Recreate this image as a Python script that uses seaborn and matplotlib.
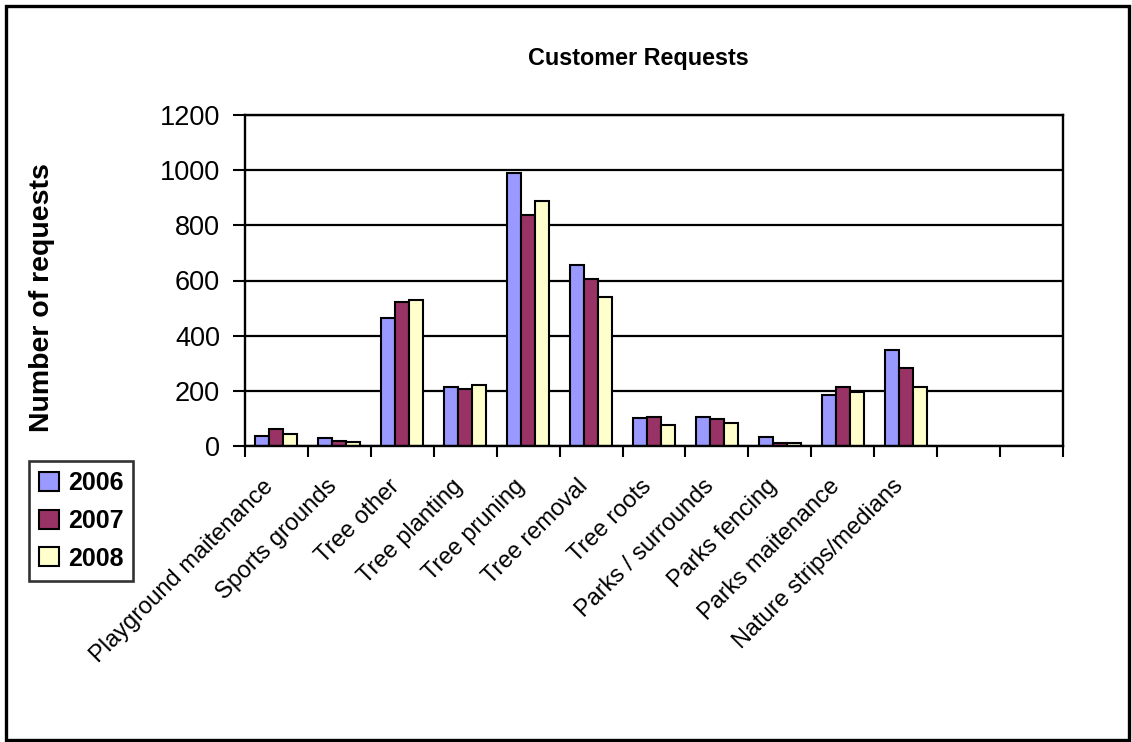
import matplotlib
matplotlib.use("Agg")
import matplotlib.pyplot as plt
import matplotlib.transforms as mtransforms
from matplotlib.patches import Rectangle, Patch
import seaborn as sns
import pandas as pd
import numpy as np

categories = ["Playground maitenance", "Sports grounds", "Tree other", "Tree planting",
              "Tree pruning", "Tree removal", "Tree roots", "Parks / surrounds",
              "Parks fencing", "Parks maitenance", "Nature strips/medians"]
years = ["2006", "2007", "2008"]
v2006 = [36, 29, 464, 215, 991, 656, 102, 105, 31, 184, 349]
v2007 = [62, 17, 522, 206, 838, 607, 104, 97, 12, 215, 281]
v2008 = [45, 13, 531, 220, 887, 541, 77, 85, 10, 194, 215]
colors = ["#9999FF", "#993366", "#FFFFCC"]
yticks = [0, 200, 400, 600, 800, 1000, 1200]

sns.set_theme(style="white")
plt.rcParams['font.family'] = ['Liberation Sans', 'DejaVu Sans']
plt.rcParams['text.color'] = 'black'
plt.rcParams['xtick.color'] = 'black'
plt.rcParams['ytick.color'] = 'black'
plt.rcParams['axes.labelcolor'] = 'black'

df = pd.DataFrame({
    "category": categories * 3,
    "year": [years[0]] * len(categories) + [years[1]] * len(categories) + [years[2]] * len(categories),
    "value": v2006 + v2007 + v2008,
})

W, H = 1132, 742
fig = plt.figure(figsize=(W / 100, H / 100), dpi=100)
fig.patch.set_facecolor("white")

ax = fig.add_axes([245 / W, 1 - 446 / H, (1063 - 245) / W, (446 - 115) / H])
ax.set_axisbelow(True)
ax.yaxis.grid(True, color="black", linewidth=1.6)
sns.barplot(data=df, x="category", y="value", hue="year", order=categories,
            hue_order=years, palette=colors, width=0.667, gap=0,
            edgecolor="black", linewidth=1.5, saturation=1, ax=ax, legend=False)

nslots = 13
ax.set_xlim(-0.5, nslots - 0.5)
ax.set_ylim(0, 1200)
ax.set_yticks(yticks)
ax.set_yticklabels([str(t) for t in yticks], fontsize=19.5, color="black")
ax.tick_params(axis="y", direction="out", length=9, width=1.5, pad=9, color="black", left=True)

ax.set_xticks(range(len(categories)))
ax.set_xticklabels(categories, rotation=45, ha="right", va="top",
                   rotation_mode="anchor", fontsize=17, color="black")
ax.tick_params(axis="x", which="major", length=0, pad=21, bottom=True)
ax.set_xticks(np.arange(-0.5, nslots, 1.0), minor=True)
ax.tick_params(axis="x", which="minor", direction="out", length=8, width=1.5,
               color="black", bottom=True)
offset = mtransforms.ScaledTranslation(-14 / 100, 0, fig.dpi_scale_trans)
for lbl in ax.get_xticklabels():
    lbl.set_transform(lbl.get_transform() + offset)

for s in ax.spines.values():
    s.set_visible(True)
    s.set_color("black")
    s.set_linewidth(1.7)
ax.set_xlabel("")
ax.set_ylabel("")

fig.text(638 / W, 1 - 58 / H, "Customer Requests", ha="center", va="center",
         fontsize=16.8, fontweight="bold", color="black")
fig.text(42 / W, 1 - 298 / H, "Number of requests", ha="center", va="center",
         rotation=90, fontsize=20.5, fontweight="bold", color="black")

handles = [Patch(facecolor=c, edgecolor="black", linewidth=1.5) for c in colors]
leg = fig.legend(handles, years, loc="upper left", bbox_to_anchor=(29 / W, 1 - 461 / H),
                 bbox_transform=fig.transFigure, frameon=True, fancybox=False,
                 prop={"weight": "bold", "size": 18}, handlelength=0.8, handleheight=0.8,
                 handletextpad=0.35, labelspacing=0.55, borderpad=0.4, borderaxespad=0)
leg.get_frame().set_edgecolor("black")
leg.get_frame().set_linewidth(1.9)
for t in leg.get_texts():
    t.set_color("black")

fig.patches.append(Rectangle((6 / W, 2 / H), (1129 - 6) / W, (736 - 2) / H,
                             transform=fig.transFigure, fill=False,
                             edgecolor="black", linewidth=2.4))

fig.savefig("out.png", dpi=100)
